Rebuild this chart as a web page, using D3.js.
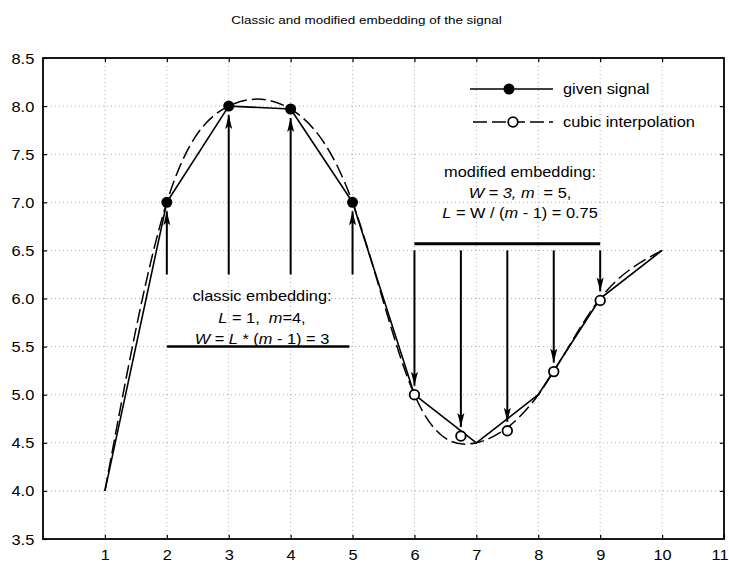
<!DOCTYPE html>
<html>
<head>
<meta charset="utf-8">
<script src="https://cdn.jsdelivr.net/npm/d3@7"></script>
<style>
  body { margin: 0; background: #fff; }
  text { font-family: "Liberation Sans", Arial, sans-serif; fill: #000; }
</style>
</head>
<body>
<div id="chart"></div>
<script>
// values
const signalX = [1, 2, 3, 4, 5, 6, 7, 8, 9, 10];
const signalY = [4.0, 7.0, 8.0, 7.97, 7.0, 5.0, 4.5, 5.0, 6.0, 6.5];

const modifiedX = [6, 6.75, 7.5, 8.25, 9];
const modifiedY = [5.0, 4.57, 4.625, 5.24, 5.98];

const classicX = [2, 3, 4, 5];
const classicY = [7.0, 8.0, 7.97, 7.0];

const classicArrowFrom = 6.25;
const classicBar = [2, 4.95, 5.5];     // x from, x to, y
const modifiedArrowFrom = 6.5;
const modifiedBar = [6, 9, 6.57];

const xTicks = [1, 2, 3, 4, 5, 6, 7, 8, 9, 10, 11];
const yTicks = [3.5, 4.0, 4.5, 5.0, 5.5, 6.0, 6.5, 7.0, 7.5, 8.0, 8.5];

const title = "Classic and modified embedding of the signal";
const legendLabels = ["given signal", "cubic interpolation"];
const classicText = [
    [["classic embedding:", false]],
    [["L", true], [" = 1,  ", false], ["m", true], ["=4,", false]],
    [["W", true], [" = ", false], ["L", true], [" * (", false], ["m", true], [" - 1) = 3", false]]
];
const modifiedText = [
    [["modified embedding:", false]],
    [["W = 3, m", true], ["  = 5,", false]],
    [["L", true], [" = W / (", false], ["m", true], [" - 1) = 0.75", false]]
];

const width = 729;
const height = 565;
const marginTop = 58;
const marginRight = 5;
const marginBottom = 26;
const marginLeft = 43;
const stretch = 1.17;   // lettering in the picture is a bit wide

const x = d3.scaleLinear()
    .domain([0, 11])
    .range([marginLeft, width - marginRight]);

const y = d3.scaleLinear()
    .domain([3.5, 8.5])
    .range([height - marginBottom, marginTop]);

const svg = d3.select("#chart").append("svg")
    .attr("width", width)
    .attr("height", height)
    .attr("viewBox", [0, 0, width, height]);

svg.append("defs").append("marker")
    .attr("id", "arrow")
    .attr("viewBox", "0 -4 14 8")
    .attr("refX", 14)
    .attr("refY", 0)
    .attr("markerWidth", 14)
    .attr("markerHeight", 8)
    .attr("markerUnits", "userSpaceOnUse")
    .attr("orient", "auto")
    .append("path")
    .attr("d", "M0,-3.5L14,0L0,3.5L3,0Z")
    .attr("fill", "#000");

// title
svg.append("text")
    .attr("transform", `translate(${width / 2 + 2},24) scale(${stretch},1)`)
    .attr("text-anchor", "middle")
    .attr("font-size", 11.5)
    .text(title);

// grid
svg.append("g")
    .attr("stroke", "#999")
    .attr("stroke-width", 0.8)
    .attr("stroke-dasharray", "1,3")
    .call(g => g.selectAll("line.v")
        .data(xTicks.slice(0, -1))
        .join("line")
        .attr("class", "v")
        .attr("x1", d => x(d)).attr("x2", d => x(d))
        .attr("y1", y(8.5)).attr("y2", y(3.5)))
    .call(g => g.selectAll("line.h")
        .data(yTicks.slice(1, -1))
        .join("line")
        .attr("class", "h")
        .attr("x1", x(0)).attr("x2", x(11))
        .attr("y1", d => y(d)).attr("y2", d => y(d)));

// axes with inward ticks
function styleAxis(g) {
    g.select(".domain").remove();
    g.selectAll(".tick line").attr("stroke", "#000").attr("stroke-width", 1.2);
    g.selectAll(".tick text")
        .attr("font-size", 14)
        .attr("font-family", "Liberation Sans, Arial, sans-serif")
        .attr("fill", "#000");
}

svg.append("g")
    .attr("transform", `translate(0,${y(3.5)})`)
    .call(d3.axisBottom(x).tickValues(xTicks).tickSize(-4).tickPadding(11).tickFormat(d3.format("d")))
    .call(styleAxis)
    .call(g => g.selectAll(".tick text").attr("transform", `scale(${stretch},1)`))
    // last label sits at the right edge of the picture
    .call(g => g.selectAll(".tick text").filter(d => d === 11)
        .attr("text-anchor", "end")
        .attr("x", 4 / stretch));

svg.append("g")
    .attr("transform", `translate(${x(0)},0)`)
    .call(d3.axisLeft(y).tickValues(yTicks).tickSize(-4).tickPadding(7.5).tickFormat(d3.format(".1f")))
    .call(styleAxis)
    .call(g => g.selectAll(".tick text").attr("dy", "0.36em").attr("transform", `scale(${stretch},1)`));

svg.append("g")
    .attr("transform", `translate(0,${y(8.5)})`)
    .call(d3.axisTop(x).tickValues(xTicks.slice(0, -1)).tickSize(-4).tickFormat(""))
    .call(styleAxis);

svg.append("g")
    .attr("transform", `translate(${x(11)},0)`)
    .call(d3.axisRight(y).tickValues(yTicks.slice(1, -1)).tickSize(-4).tickFormat(""))
    .call(styleAxis);

// frame
svg.append("rect")
    .attr("x", x(0))
    .attr("y", y(8.5))
    .attr("width", x(11) - x(0))
    .attr("height", y(3.5) - y(8.5))
    .attr("fill", "none")
    .attr("stroke", "#000")
    .attr("stroke-width", 1.8);

const signal = signalX.map((d, i) => [d, signalY[i]]);

// cubic interpolation (dashed)
svg.append("path")
    .datum(signal)
    .attr("fill", "none")
    .attr("stroke", "#000")
    .attr("stroke-width", 1.5)
    .attr("stroke-dasharray", "14,5")
    .attr("d", d3.line().curve(d3.curveNatural).x(d => x(d[0])).y(d => y(d[1])));

// given signal
svg.append("path")
    .datum(signal)
    .attr("fill", "none")
    .attr("stroke", "#000")
    .attr("stroke-width", 1.6)
    .attr("stroke-linejoin", "round")
    .attr("d", d3.line().x(d => x(d[0])).y(d => y(d[1])));

// classic embedding arrows
svg.append("g")
    .selectAll("line")
    .data(classicX)
    .join("line")
    .attr("x1", d => x(d)).attr("x2", d => x(d))
    .attr("y1", y(classicArrowFrom))
    .attr("y2", (d, i) => y(classicY[i]) + 9)
    .attr("stroke", "#000")
    .attr("stroke-width", 2)
    .attr("marker-end", "url(#arrow)");

svg.append("line")
    .attr("x1", x(classicBar[0])).attr("x2", x(classicBar[1]))
    .attr("y1", y(classicBar[2])).attr("y2", y(classicBar[2]))
    .attr("stroke", "#000")
    .attr("stroke-width", 2.5);

// modified embedding arrows
svg.append("g")
    .selectAll("line")
    .data(modifiedX)
    .join("line")
    .attr("x1", d => x(d)).attr("x2", d => x(d))
    .attr("y1", y(modifiedArrowFrom))
    .attr("y2", (d, i) => y(modifiedY[i]) - 9)
    .attr("stroke", "#000")
    .attr("stroke-width", 2)
    .attr("marker-end", "url(#arrow)");

svg.append("line")
    .attr("x1", x(modifiedBar[0])).attr("x2", x(modifiedBar[1]))
    .attr("y1", y(modifiedBar[2])).attr("y2", y(modifiedBar[2]))
    .attr("stroke", "#000")
    .attr("stroke-width", 3);

// markers
svg.append("g")
    .selectAll("circle")
    .data(classicX)
    .join("circle")
    .attr("cx", d => x(d))
    .attr("cy", (d, i) => y(classicY[i]))
    .attr("r", 5.5)
    .attr("fill", "#000");

svg.append("g")
    .selectAll("circle")
    .data(modifiedX)
    .join("circle")
    .attr("cx", d => x(d))
    .attr("cy", (d, i) => y(modifiedY[i]))
    .attr("r", 4.8)
    .attr("fill", "#fff")
    .attr("stroke", "#000")
    .attr("stroke-width", 1.8);

// annotation text blocks
function textBlock(cx, baselines, lines) {
    lines.forEach((parts, i) => {
        const t = svg.append("text")
            .attr("transform", `translate(${cx},${baselines[i]}) scale(${stretch},1)`)
            .attr("text-anchor", "middle")
            .attr("font-size", 14)
            .attr("xml:space", "preserve");
        parts.forEach(([s, it]) => {
            t.append("tspan").attr("font-style", it ? "italic" : "normal").text(s);
        });
    });
}

textBlock(262, [301, 323, 344], classicText);
textBlock(520, [177, 198, 218], modifiedText);

// legend
const legend = svg.append("g");
legend.append("line")
    .attr("x1", 470).attr("x2", 553).attr("y1", 89).attr("y2", 89)
    .attr("stroke", "#000").attr("stroke-width", 1.6);
legend.append("circle")
    .attr("cx", 509).attr("cy", 89).attr("r", 5.5).attr("fill", "#000");
legend.append("line")
    .attr("x1", 473).attr("x2", 553).attr("y1", 122).attr("y2", 122)
    .attr("stroke", "#000").attr("stroke-width", 1.6)
    .attr("stroke-dasharray", "14,5");
legend.append("circle")
    .attr("cx", 513).attr("cy", 122).attr("r", 4.8)
    .attr("fill", "#fff").attr("stroke", "#000").attr("stroke-width", 1.8);
legend.selectAll("text")
    .data(legendLabels)
    .join("text")
    .attr("transform", (d, i) => `translate(563,${94 + i * 33}) scale(${stretch},1)`)
    .attr("font-size", 14)
    .text(d => d);
</script>
</body>
</html>
